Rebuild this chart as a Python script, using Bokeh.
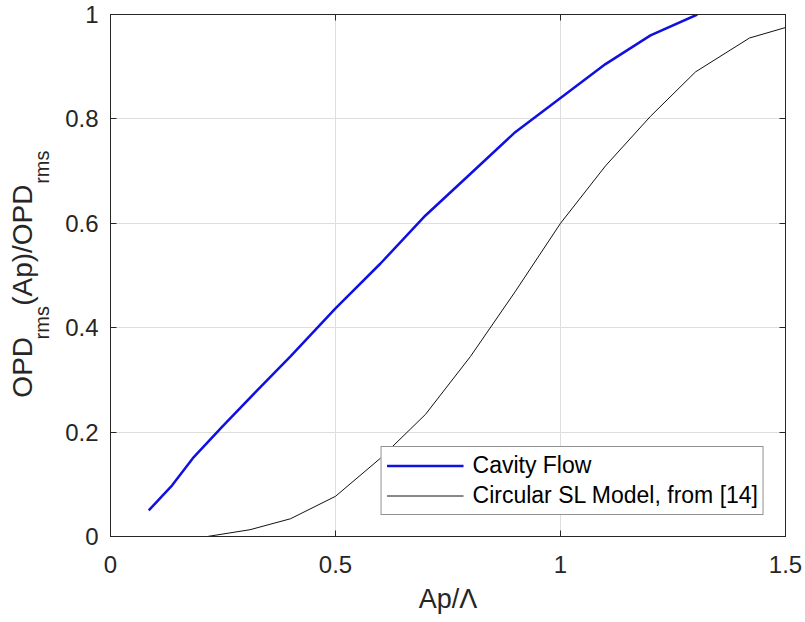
import math
from bokeh.plotting import figure
from bokeh.models import Range1d, LinearAxis, FixedTicker, Legend, LegendItem
from bokeh.embed import file_html
from bokeh.resources import INLINE

# ---- data ----
cavity_x = [0.085, 0.137, 0.183, 0.25, 0.326, 0.40, 0.50, 0.60, 0.70, 0.80, 0.90, 1.00, 1.10, 1.20, 1.304]
cavity_y = [0.050, 0.098, 0.150, 0.212, 0.280, 0.345, 0.437, 0.523, 0.615, 0.695, 0.775, 0.840, 0.905, 0.960, 1.000]

model_x = [0.215, 0.31, 0.40, 0.50, 0.60, 0.70, 0.80, 0.90, 1.00, 1.10, 1.20, 1.30, 1.42, 1.50]
model_y = [0.000, 0.013, 0.034, 0.077, 0.150, 0.234, 0.345, 0.470, 0.600, 0.710, 0.805, 0.890, 0.955, 0.975]

x_ticks = [0, 0.5, 1, 1.5]
x_tick_labels = ["0", "0.5", "1", "1.5"]
y_ticks = [0, 0.2, 0.4, 0.6, 0.8, 1]
y_tick_labels = ["0", "0.2", "0.4", "0.6", "0.8", "1"]

legend_labels = ["Cavity Flow", "Circular SL Model, from [14]"]
x_label = "Ap/\u039b"
y_label_main = ["OPD", "(Ap)/OPD"]
y_label_sub = ["rms", "rms"]

# ---- styling ----
AX = "#262626"
GRID = "#dedede"
FONT = "Liberation Sans"
TICK_FS = 24
LABEL_FS = 27
YLABEL_FS = 28
SUB_FS = 20
NB = "\u00a0"

p = figure(width=805, height=622,
           x_range=Range1d(0, 1.5), y_range=Range1d(0, 1),
           output_backend="svg", toolbar_location=None,
           min_border_left=110, min_border_right=20,
           min_border_top=14, min_border_bottom=86,
           background_fill_color="white", border_fill_color="white",
           outline_line_color=AX, outline_line_width=1)

def style_axis(ax, ticks, labels, show_labels=True, standoff=12):
    ax.ticker = FixedTicker(ticks=ticks)
    ax.major_label_overrides = {t: l for t, l in zip(ticks, labels)}
    ax.major_tick_in = 6
    ax.major_tick_out = 0
    ax.minor_tick_line_color = None
    ax.axis_line_color = AX
    ax.major_tick_line_color = AX
    ax.major_label_text_color = AX
    ax.major_label_text_font = FONT
    if show_labels:
        ax.major_label_text_font_size = f"{TICK_FS}px"
        ax.major_label_standoff = standoff
    else:
        ax.major_label_text_font_size = "0px"
        ax.major_label_standoff = 0
    ax.axis_label = None

style_axis(p.xaxis[0], x_ticks, x_tick_labels, True, 19)
style_axis(p.yaxis[0], y_ticks, y_tick_labels, True, 12)

# x axis label
xa = p.xaxis[0]
xa.axis_label = x_label
xa.axis_label_text_font = FONT
xa.axis_label_text_font_size = f"{LABEL_FS}px"
xa.axis_label_text_font_style = "normal"
xa.axis_label_text_color = AX
xa.axis_label_standoff = 8

top_ax = LinearAxis()
right_ax = LinearAxis()
style_axis(top_ax, x_ticks, [""] * len(x_ticks), False)
style_axis(right_ax, y_ticks, [""] * len(y_ticks), False)
p.add_layout(top_ax, "above")
p.add_layout(right_ax, "right")

# y axis label built from two label-only axes: subscripts (inner), main text (outer)
def space_for(text, fs_text, fs_space):
    W = {'O': 0.778, 'P': 0.667, 'D': 0.722, 'r': 0.333, 'm': 0.833, 's': 0.5,
         '(': 0.333, 'A': 0.667, 'p': 0.556, ')': 0.333, '/': 0.278}
    w = sum(W.get(c, 0.556) for c in text) * fs_text
    return NB * int(round(w / (0.278 * fs_space)))

sub_text = (space_for(y_label_main[0], YLABEL_FS, SUB_FS) + y_label_sub[0]
            + space_for(y_label_main[1], YLABEL_FS, SUB_FS) + y_label_sub[1])
main_text = (y_label_main[0] + space_for(y_label_sub[0], SUB_FS, YLABEL_FS)
             + y_label_main[1] + space_for(y_label_sub[1], SUB_FS, YLABEL_FS))

def label_axis(text, fs, standoff):
    ax = LinearAxis(ticker=FixedTicker(ticks=[]))
    ax.axis_line_color = None
    ax.major_tick_line_color = None
    ax.minor_tick_line_color = None
    ax.major_tick_in = 0
    ax.major_tick_out = 0
    ax.major_label_text_font_size = "0px"
    ax.major_label_standoff = 0
    ax.axis_label = text
    ax.axis_label_text_font = FONT
    ax.axis_label_text_font_size = f"{fs}px"
    ax.axis_label_text_font_style = "normal"
    ax.axis_label_text_color = AX
    ax.axis_label_standoff = standoff
    return ax

p.add_layout(label_axis(sub_text, SUB_FS, 10), "left")
p.add_layout(label_axis(main_text, YLABEL_FS, -10), "left")

p.xgrid.ticker = FixedTicker(ticks=x_ticks)
p.ygrid.ticker = FixedTicker(ticks=y_ticks)
p.grid.grid_line_color = GRID
p.grid.grid_line_width = 1

r_cav = p.line(cavity_x, cavity_y, line_color="#1010e0", line_width=2.5)
r_mod = p.line(model_x, model_y, line_color="#111111", line_width=1)

legend = Legend(items=[LegendItem(label=legend_labels[0], renderers=[r_cav]),
                       LegendItem(label=legend_labels[1], renderers=[r_mod])],
                location="bottom_right", margin=21, padding=5, spacing=3,
                glyph_width=77, glyph_height=23, label_height=23,
                label_standoff=9,
                label_text_font=FONT, label_text_font_size="23px",
                label_text_color="#000000",
                border_line_color=AX, border_line_width=1,
                background_fill_color="white", background_fill_alpha=1.0)
p.add_layout(legend)

open("out.html", "w").write(file_html(p, INLINE))
